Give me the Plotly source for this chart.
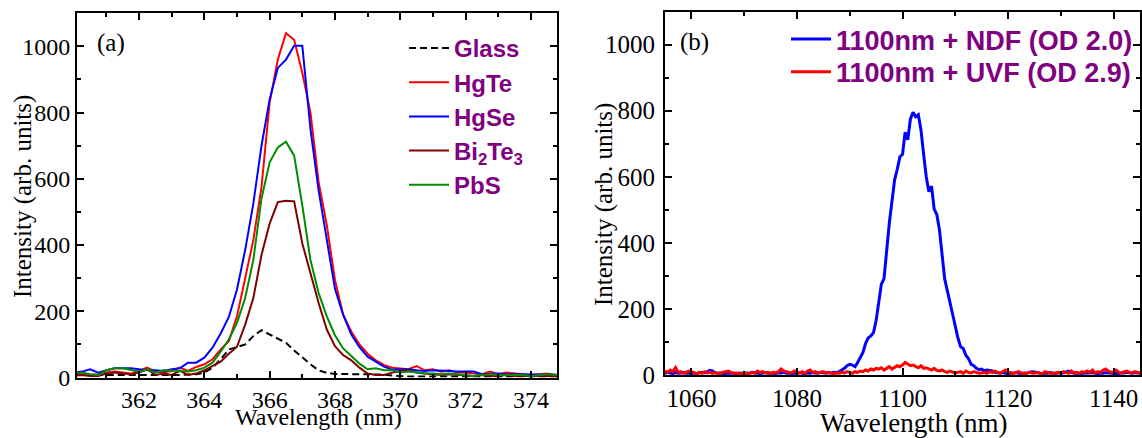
import plotly.graph_objects as go

# ---------------- Panel (a) data: wavelength grid start/step (nm) ----------------
wl_a_start = 360.0
wl_a_step = 0.25

glass = [8, 8, 7, 7, 6, 7, 7, 8, 8, 8, 8, 8, 8, 8, 9, 10,
         15, 30, 55, 85, 92, 100, 125, 143, 130, 118, 105, 82, 60, 40, 22, 14,
         11, 10, 10, 10, 10, 10, 9, 6, 4, 3, 3, 3,
         3, 3, 3, 3, 3, 3, 3, 3, 3, 3, 3, 3, 3, 3, 3, 3, 3]
hgte = [10, 12, 8, 10, 15, 18, 15, 12, 20, 30, 18, 15, 20, 30, 20, 32,
        40, 55, 85, 110, 185, 300, 415, 575, 830, 960, 1040, 1020, 920, 800, 590, 460,
        295, 190, 139, 100, 72, 52, 38, 30, 28, 25, 35, 22, 25, 18, 22, 15,
        15, 12, 10, 18, 10, 15, 12, 10, 8, 10, 12, 8, 8]
hgse = [15, 18, 25, 15, 22, 28, 28, 28, 25, 22, 22, 20, 25, 28, 45, 45,
        60, 90, 133, 183, 266, 385, 525, 700, 840, 935, 960, 1002, 1002, 750, 565, 417,
        268, 190, 130, 92, 63, 48, 33, 24, 25, 25, 22, 20, 22, 22, 20, 18,
        18, 18, 10, 12, 12, 10, 10, 8, 8, 10, 10, 8, 8]
bi2te3 = [5, 8, 5, 5, 12, 15, 12, 10, 15, 25, 8, 12, 8, 20, 8, 12,
          22, 35, 48, 72, 93, 160, 240, 370, 465, 530, 534, 532, 405, 315, 225, 145,
          95, 68, 52, 30, 12, 8, 8, 15, 20, 22, 15, 12, 10, 8, 10, 8,
          5, 5, 8, 5, 5, 8, 5, 5, 5, 5, 5, 5, 5]
pbs = [12, 15, 10, 8, 22, 28, 28, 22, 18, 25, 15, 22, 22, 20, 18, 22,
       30, 45, 78, 115, 165, 240, 355, 540, 650, 695, 712, 670, 520, 355, 255, 185,
       128, 88, 65, 42, 25, 28, 22, 22, 15, 18, 15, 12, 12, 10, 12, 10,
       8, 5, 8, 10, 8, 8, 8, 8, 5, 8, 10, 8, 5]

# ---------------- Panel (b) data ----------------
wl_b_start = 1055.0
wl_b_step = 0.5

ndf = [5, 8, 6, 4, 7, 5, 6, 8, 5, 4,
       5, 6, 4, 7, 8, 6, 9, 14, 12, 7,
       5, 6, 4, 5, 7, 6, 5, 4, 6, 5,
       4, 6, 5, 8, 6, 5, 4, 6, 7, 5,
       6, 5, 4, 7, 6, 8, 5, 6, 4, 5,
       6, 7, 5, 4, 6, 5, 7, 6, 5, 8,
       6, 5, 7, 6, 8, 7, 10, 15, 20, 28,
       32, 30, 25, 38, 52, 68, 95, 112, 118, 128,
       165, 215, 275, 292, 380, 460, 525, 590, 622, 660,
       668, 735, 712, 775, 795, 782, 788, 742, 668, 600,
       555, 572, 502, 486, 440, 360, 290, 255, 220, 185,
       142, 112, 86, 80, 60, 50, 32, 28, 20, 16,
       18, 12, 15, 14, 12, 8, 6, 5, 7, 5,
       4, 6, 5, 7, 5, 4, 6, 5, 8, 10,
       9, 6, 5, 4, 6, 5, 7, 5, 6, 8,
       7, 6, 9, 12, 8, 5, 6, 4, 5, 6,
       5, 6, 7, 5, 4, 6, 5, 7, 6, 5,
       6, 5, 4, 7, 6, 8, 6, 5, 7, 6,
       5]
uvf = [12, 8, 15, 10, 22, 8, 10, 5, 8, 12,
       10, 6, 4, 8, 5, 10, 6, 8, 5, 7,
       4, 6, 8, 10, 12, 8, 5, 6, 4, 5,
       6, 4, 5, 7, 5, 12, 8, 10, 6, 8,
       5, 8, 6, 10, 18, 12, 10, 8, 6, 12,
       8, 6, 10, 5, 12, 15, 8, 10, 6, 8,
       10, 6, 8, 5, 4, 6, 5, 8, 6, 10,
       8, 5, 10, 8, 12, 10, 15, 12, 18, 15,
       20, 18, 22, 15, 20, 25, 18, 22, 28, 25,
       30, 38, 32, 28, 30, 25, 22, 28, 20, 22,
       18, 15, 20, 14, 12, 15, 10, 8, 12, 10,
       6, 8, 10, 5, 12, 8, 6, 10, 8, 5,
       6, 8, 5, 10, 7, 12, 8, 6, 10, 15,
       8, 6, 5, 8, 10, 6, 4, 5, 8, 6,
       5, 8, 6, 4, 10, 8, 5, 6, 4, 8,
       6, 10, 8, 5, 12, 6, 8, 5, 10, 8,
       12, 8, 15, 6, 10, 8, 14, 18, 12, 8,
       10, 15, 8, 6, 10, 12, 8, 6, 10, 8,
       6]

series_a = [
    ("Glass", glass, "black", "7px,4px"),
    ("HgTe", hgte, "#ff0000", "solid"),
    ("HgSe", hgse, "#0000ff", "solid"),
    ("Bi<sub>2</sub>Te<sub>3</sub>", bi2te3, "#800000", "solid"),
    ("PbS", pbs, "#008c00", "solid"),
]

fig = go.Figure()
for name, vals, color, dash in series_a:
    fig.add_trace(go.Scatter(
        x0=wl_a_start, dx=wl_a_step, y=vals, mode="lines", name=name,
        line=dict(color=color, width=2, dash=dash),
        xaxis="x", yaxis="y", legend="legend"))

fig.add_trace(go.Scatter(
    x0=wl_b_start, dx=wl_b_step, y=ndf, mode="lines", name="1100nm + NDF (OD 2.0)",
    line=dict(color="#0000ff", width=3), xaxis="x2", yaxis="y2", legend="legend2"))
fig.add_trace(go.Scatter(
    x0=wl_b_start, dx=wl_b_step, y=uvf, mode="lines", name="1100nm + UVF (OD 2.9)",
    line=dict(color="#ff0000", width=3), xaxis="x2", yaxis="y2", legend="legend3"))

# layout is designed in reference-pixel coordinates (1142 x 438) and expressed
# as paper fractions; figure height is set to the captured page height.
RW, RH = 1142, 438
W, H = 1142, 450


def fx(x):
    return x / RW


def fy(y):
    return 1 - y / RH


serif = "Liberation Serif"
sans = "Liberation Sans"


def axis(size, **kw):
    base = dict(showline=True, linecolor="black", linewidth=2, mirror="allticks",
                ticks="inside", ticklen=7, tickwidth=2, tickcolor="black",
                showgrid=False, zeroline=False,
                tickfont=dict(family=serif, size=size, color="black"))
    base.update(kw)
    return base


def minor(d):
    return dict(dtick=d, ticklen=4, tickwidth=2, ticks="inside", tickcolor="black")


def leg(x, y, size):
    return dict(x=fx(x), y=fy(y), xanchor="left", yanchor="top",
                bgcolor="rgba(0,0,0,0)", itemwidth=40, tracegroupgap=0,
                font=dict(family=sans, size=size, color="#800080", weight="bold"))


def label(text, x, y, size, angle=0, anchor="center"):
    return dict(text=text, x=fx(x), y=fy(y), xref="paper", yref="paper",
                xanchor=anchor, yanchor="middle", showarrow=False, textangle=angle,
                font=dict(family=serif, size=size, color="black"))


fig.update_layout(
    width=W, height=H,
    margin=dict(l=0, r=0, t=0, b=0),
    paper_bgcolor="white", plot_bgcolor="white",
    xaxis=axis(24, domain=[fx(77), fx(557)], range=[360.1, 374.8], dtick=2, tick0=0,
               minor=minor(1), ticklabelstandoff=0, anchor="y"),
    yaxis=axis(24, domain=[fy(379.3), fy(13.3)], range=[0, 1100], dtick=200, tick0=0,
               minor=minor(100), anchor="x"),
    xaxis2=axis(25, domain=[fx(665), fx(1140)], range=[1055, 1145], dtick=20, tick0=0,
                minor=minor(10), ticklabelstandoff=0, anchor="y2"),
    yaxis2=axis(25, domain=[fy(376.7), fy(11.7)], range=[0, 1100], dtick=200, tick0=0,
                minor=minor(100), ticklabelstandoff=3, anchor="x2"),
    legend=leg(404, 26, 24),
    legend2=leg(786, 15, 27),
    legend3=leg(786, 48, 27),
    showlegend=True,
    annotations=[
        label("(a)", 95, 43, 25, anchor="left"),
        label("(b)", 678, 42, 25, anchor="left"),
        label("Wavelength (nm)", 318.5, 419, 24),
        label("Wavelength (nm)", 914, 425, 27),
        label("Intensity (arb. units)", 23, 198, 25, angle=-90),
        label("Intensity (arb. units)", 604, 206, 25, angle=-90),
    ],
)

fig.write_html("out.html",
               config={"displayModeBar": False},
               post_script="document.body.style.margin='0';document.body.style.overflow='hidden';")
